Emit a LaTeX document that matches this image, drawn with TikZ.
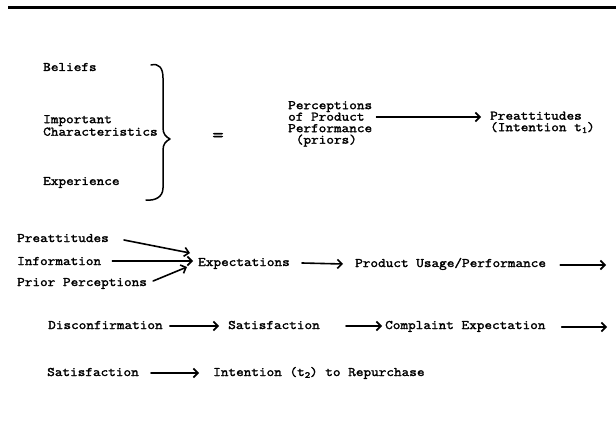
\documentclass[tikz,border=0pt]{standalone}
\usepackage{fontspec}
\setmonofont{Latin Modern Mono}[FakeBold=2, FakeStretch=1.14]
\usetikzlibrary{arrows.meta}
\begin{document}
\begin{tikzpicture}[x=1pt,y=-1pt,
  lbl/.style={anchor=west, inner sep=0pt, text height=8pt, text depth=0pt,
    font=\fontsize{13}{15}\selectfont\ttfamily},
  blk/.style={anchor=north west, inner sep=0pt, align=left,
    font=\fontsize{13}{11.5}\selectfont\ttfamily},
  arr/.style={line width=1.6pt, line cap=round,
    -{Straight Barb[length=4.5pt,width=9pt,line width=1.6pt]}},
  rule/.style={line width=3pt},
  brace/.style={line width=1.5pt, line cap=round, line join=round}]
\useasboundingbox (0,0) rectangle (616,425);
% top rule
\coordinate (r1) at (8,8);
\coordinate (r2) at (616,8);
\draw[rule] (r1) -- (r2);

% left column
\node[lbl] (bel) at (43,67) {Beliefs};
\node[blk, font=\fontsize{13}{12.5}\selectfont\ttfamily] (imp) at (43,115) {Important\\Characteristics};
\node[lbl] (expe) at (43,181) {Experience};
\draw[brace] (151,65) .. controls (159,63) and (163,68) .. (163,78) -- (163,128)
  .. controls (163,134) and (166,137) .. (170,139)
  .. controls (166,141) and (163,144) .. (163,150) -- (163,188)
  .. controls (163,197) and (155,201) .. (146,200);
\node[anchor=center, inner sep=0pt, font=\fontsize{19}{19}\selectfont\ttfamily] (eq) at (218,137) {=};

% perceptions block
\node[blk] (per) at (288,101) {Perceptions\\of Product\\Performance\\\ (priors)};
\node[blk] (pre1) at (490,111.5) {Preattitudes\\(Intention t$_{\mathtt{1}}$)};
\coordinate (pa) at ([xshift=4pt]per.east |- 0,117);
\draw[arr, line width=1.2pt] (pa) -- ([xshift=-9pt]pre1.west |- pa);

% expectations block
\node[lbl] (pre2) at (17,238) {Preattitudes};
\node[lbl] (info) at (17,261) {Information};
\node[lbl] (prior) at (17,282) {Prior Perceptions};
\node[lbl] (exp) at (198,262) {Expectations};
\node[lbl] (pu) at (355,263) {Product Usage/Performance};
\coordinate (puend) at (606,265);
\draw[arr] ([shift={(15,2)}]pre2.east) -- ([shift={(-8,-9)}]exp.west);
\draw[arr] ([shift={(11,0)}]info.east) -- ([shift={(-5,-1)}]exp.west);
\draw[arr] ([shift={(6,-1)}]prior.east) -- ([shift={(-11,5)}]exp.west);
\draw[arr] ([shift={(12,1)}]exp.east) -- ([shift={(-12,1)}]pu.west);
\draw[arr] ([shift={(14,2)}]pu.east) -- (puend);

% satisfaction row
\node[lbl] (dis) at (48,325) {Disconfirmation};
\node[lbl] (sat1) at (228,325) {Satisfaction};
\node[lbl] (comp) at (385,325) {Complaint Expectation};
\coordinate (compend) at (607,327);
\draw[arr] ([shift={(7,1)}]dis.east) -- ([shift={(-9,1)}]sat1.west);
\draw[arr] ([shift={(26,1)}]sat1.east) -- ([shift={(-3,1)}]comp.west);
\draw[arr] ([shift={(16,2)}]comp.east) -- (compend);

% repurchase row
\node[lbl] (sat2) at (47,372) {Satisfaction};
\node[lbl] (int2) at (213,372) {Intention (t$_{\mathtt{2}}$) to Repurchase};
\draw[arr] ([shift={(12,1)}]sat2.east) -- ([shift={(-14,1)}]int2.west);
\end{tikzpicture}
\end{document}
